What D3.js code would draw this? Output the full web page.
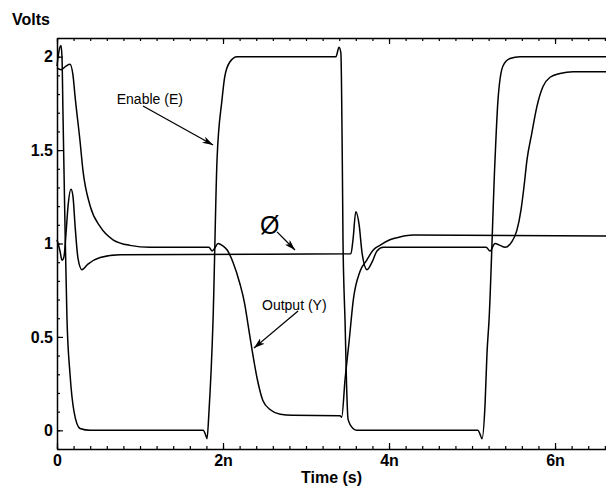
<!DOCTYPE html>
<html>
<head>
<meta charset="utf-8">
<script src="https://cdn.jsdelivr.net/npm/d3@7"></script>
<style>
  body { margin: 0; background: #fff; }
  text { font-family: "Liberation Sans", Arial, sans-serif; }
</style>
</head>
<body>
<svg id="chart" width="606" height="488"></svg>
<script>
// waveforms: [time (ns), volts]
const enableWave = [
  [0, 1.95], [0.024, 2.03], [0.048, 2.06], [0.06, 2.0], [0.072, 1.7], [0.096, 1.1],
  [0.12, 0.6], [0.157, 0.3], [0.205, 0.1], [0.277, 0.01], [0.4, 0], [1.76, 0],
  [1.795, -0.03], [1.807, -0.045], [1.831, 0.1], [1.88, 0.59], [1.928, 1.45],
  [1.988, 1.77], [2.02, 1.89], [2.08, 1.97], [2.17, 2.0], [3.36, 2.0], [3.398, 2.05],
  [3.42, 2.02], [3.437, 1.45], [3.446, 1.0], [3.458, 0.75], [3.47, 0.59],
  [3.488, 0.25], [3.506, 0.06], [3.566, 0.01], [3.614, 0], [5.07, 0], [5.096, -0.02],
  [5.12, -0.045], [5.157, 0.14], [5.18, 0.41], [5.205, 0.59], [5.277, 1.45],
  [5.313, 1.77], [5.373, 1.95], [5.458, 1.99], [5.578, 2.0], [6.614, 2.0]
];

const outputWave = [
  [0, 1.94], [0.048, 1.93], [0.108, 1.95], [0.157, 1.96], [0.193, 1.9], [0.217, 1.79],
  [0.277, 1.55], [0.313, 1.39], [0.4, 1.2], [0.52, 1.09], [0.675, 1.02], [0.88, 0.99],
  [1.12, 0.98], [1.83, 0.98], [1.87, 0.96], [1.9, 0.975], [1.94, 1.0], [1.99, 0.99],
  [2.05, 0.965], [2.12, 0.9], [2.2, 0.79], [2.26, 0.68], [2.3, 0.57], [2.35, 0.43],
  [2.41, 0.28], [2.48, 0.16], [2.57, 0.11], [2.69, 0.086], [2.84, 0.08], [3.41, 0.078],
  [3.43, 0.07], [3.47, 0.27], [3.52, 0.48], [3.57, 0.7], [3.65, 0.85], [3.73, 0.91],
  [3.81, 0.965], [3.89, 0.99], [4.01, 1.02], [4.13, 1.035], [4.29, 1.045], [6.614, 1.04]
];

const phiWave = [
  [0, 1.02], [0.036, 0.96], [0.06, 0.91], [0.084, 0.93], [0.108, 1.05], [0.133, 1.2],
  [0.169, 1.29], [0.193, 1.25], [0.217, 1.1], [0.253, 0.92], [0.3, 0.86], [0.373, 0.89],
  [0.52, 0.925], [0.76, 0.94], [3.54, 0.945], [3.566, 1.02], [3.6, 1.17], [3.64, 1.1],
  [3.675, 0.95], [3.735, 0.86], [3.795, 0.9], [3.855, 0.96], [3.93, 0.98], [5.17, 0.98],
  [5.217, 0.96], [5.277, 1.0], [5.337, 0.99], [5.398, 0.98], [5.48, 1.01], [5.54, 1.07],
  [5.59, 1.18], [5.625, 1.3], [5.663, 1.45], [5.72, 1.59], [5.78, 1.73], [5.855, 1.84],
  [5.94, 1.89], [6.06, 1.91], [6.22, 1.92], [6.614, 1.92]
];

const xTicks = [0, 2, 4, 6];
const yTicks = [0, 0.5, 1, 1.5, 2];

// callouts in data units: text anchor, arrow start, arrow end
const callouts = [
  { label: "Enable (E)", at: [0.72, 1.745], from: [1.036, 1.736], to: [1.88, 1.527] },
  { label: "Output (Y)", at: [2.47, 0.646], from: [2.904, 0.639], to: [2.373, 0.44] },
  { label: "Ø", at: [2.446, 1.051], from: [2.651, 1.062], to: [2.867, 0.965] }
];

const svg = d3.select("#chart");
const m = { left: 57, right: 606, top: 38, bottom: 449 };

const x = d3.scaleLinear().domain([0, 6.614]).range([m.left, m.right]);
const y = d3.scaleLinear().domain([-0.1, 2.1]).range([m.bottom, m.top]);

svg.append("rect").attr("width", 606).attr("height", 488).attr("fill", "#fff");

// minor ticks (inward)
const xMinor = d3.range(0, 6.61, 0.2);
const yMinor = d3.range(-0.1, 2.101, 0.1);

svg.append("g").attr("transform", `translate(0,${m.bottom})`)
  .call(d3.axisBottom(x).tickValues(xMinor).tickSizeInner(-3).tickSizeOuter(0).tickFormat(""))
  .call(g => g.select(".domain").remove());
svg.append("g").attr("transform", `translate(0,${m.top})`)
  .call(d3.axisTop(x).tickValues(xMinor).tickSizeInner(-3).tickSizeOuter(0).tickFormat(""))
  .call(g => g.select(".domain").remove());
svg.append("g").attr("transform", `translate(${m.left},0)`)
  .call(d3.axisLeft(y).tickValues(yMinor).tickSizeInner(-3).tickSizeOuter(0).tickFormat(""))
  .call(g => g.select(".domain").remove());

// major axes
const fmtTime = d => d3.format("~s")(d * 1e-9);

svg.append("g").attr("transform", `translate(0,${m.bottom})`)
  .call(d3.axisBottom(x).tickValues(xTicks).tickSizeInner(-6).tickSizeOuter(0)
    .tickPadding(6).tickFormat(fmtTime))
  .call(g => g.selectAll("text").attr("font-size", 16).attr("font-weight", "bold")
    .attr("font-family", "Liberation Sans, Arial, sans-serif").attr("fill", "#000"));

svg.append("g").attr("transform", `translate(0,${m.top})`)
  .call(d3.axisTop(x).tickValues(xTicks).tickSizeInner(-6).tickSizeOuter(0).tickFormat(""));

svg.append("g").attr("transform", `translate(${m.left},0)`)
  .call(d3.axisLeft(y).tickValues(yTicks).tickSizeInner(-6).tickSizeOuter(0)
    .tickPadding(4).tickFormat(d3.format("~g")))
  .call(g => g.selectAll("text").attr("font-size", 16).attr("font-weight", "bold")
    .attr("font-family", "Liberation Sans, Arial, sans-serif").attr("fill", "#000"));

svg.selectAll(".domain").attr("stroke-width", 1.5);
svg.selectAll(".tick line").attr("stroke-width", 1.2);

// waveforms
const line = d3.line()
  .x(d => x(d[0]))
  .y(d => y(d[1]))
  .curve(d3.curveMonotoneX);

[enableWave, outputWave, phiWave].forEach(w => {
  svg.append("path")
    .datum(w)
    .attr("fill", "none")
    .attr("stroke", "#000")
    .attr("stroke-width", 1.5)
    .attr("stroke-linejoin", "round")
    .attr("d", line);
});

// arrow marker
svg.append("defs").append("marker")
  .attr("id", "head")
  .attr("markerUnits", "userSpaceOnUse")
  .attr("markerWidth", 12).attr("markerHeight", 7)
  .attr("refX", 11).attr("refY", 3.5)
  .attr("orient", "auto")
  .append("path").attr("d", "M0,0 L11,3.5 L0,7 L3,3.5 Z").attr("fill", "#000");

callouts.forEach(c => {
  svg.append("line")
    .attr("x1", x(c.from[0])).attr("y1", y(c.from[1]))
    .attr("x2", x(c.to[0])).attr("y2", y(c.to[1]))
    .attr("stroke", "#000").attr("stroke-width", 1.3)
    .attr("marker-end", "url(#head)");
  svg.append("text")
    .attr("x", x(c.at[0])).attr("y", y(c.at[1]))
    .attr("font-size", c.label === "Ø" ? 25 : 14)
    .attr("fill", "#000")
    .text(c.label);
});

// axis titles
svg.append("text").attr("x", 12).attr("y", 25)
  .attr("font-size", 16).attr("font-weight", "bold").text("Volts");
svg.append("text").attr("x", (m.left + m.right) / 2).attr("y", 483)
  .attr("text-anchor", "middle")
  .attr("font-size", 16).attr("font-weight", "bold").text("Time (s)");
</script>
</body>
</html>
